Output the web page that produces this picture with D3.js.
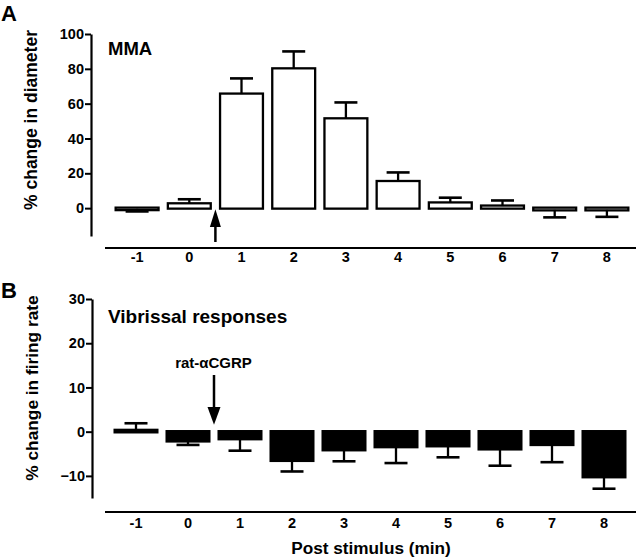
<!DOCTYPE html>
<html><head><meta charset="utf-8">
<script src="https://cdnjs.cloudflare.com/ajax/libs/d3/7.8.5/d3.min.js"></script>
<style>
html,body{margin:0;padding:0;background:#fff;}
svg{display:block;font-family:"Liberation Sans",Arial,Helvetica,sans-serif;font-weight:bold;}
</style></head>
<body><svg id="c" width="640" height="559"></svg>
<script>
const categories = ["-1","0","1","2","3","4","5","6","7","8"];
const mmaValues   = [-0.4, 2.5, 65.5, 80, 51.3, 15.3, 3, 1.2, -1, -1];
const mmaErrors   = [ 1.5, 2.6,  9,   10,  9.4,  5.2, 3, 3.2,  4.3, 4];
const vibValues   = [0.3, -2.1, -1.6, -6.5, -4.1, -3.4, -3.2, -3.9, -2.9, -10.2];
const vibErrors   = [1.6,  0.9,  2.7,  2.5,  2.6,  3.7,  2.6,  3.8,  4.0,   2.7];
const mmaTicks = [0,20,40,60,80,100];
const vibTicks = [-10,0,10,20,30];

const svg = d3.select("#c");
const FF = "Liberation Sans, Arial, sans-serif";

function panel(o){
  const g = svg.append("g");
  const x = d3.scaleBand().domain(categories).range(o.xr).paddingInner(0.14).paddingOuter(0.07);
  const y = d3.scaleLinear().domain(o.yd).range(o.yr);
  const ya = g.append("g").attr("transform",`translate(${o.axisX},0)`)
    .call(d3.axisLeft(y).tickValues(o.ticks).tickSize(6).tickSizeOuter(0).tickPadding(1));
  ya.select(".domain").attr("stroke","#000").attr("stroke-width",2.2);
  ya.selectAll(".tick line").attr("stroke","#000").attr("stroke-width",2);
  ya.selectAll(".tick text").attr("font-size",14.5).attr("font-weight","bold").attr("fill","#000")
    .attr("font-family",FF);
  g.append("line").attr("x1",105).attr("x2",636).attr("y1",o.lineY).attr("y2",o.lineY)
    .attr("stroke","#000").attr("stroke-width",2.2);
  const xa = g.append("g").attr("transform",`translate(0,${o.lineY})`)
    .call(d3.axisBottom(x).tickSize(0).tickPadding(o.labelPad));
  xa.select(".domain").remove();
  xa.selectAll(".tick text").attr("font-size",14.5).attr("font-weight","bold").attr("fill","#000")
    .attr("font-family",FF);
  const data = categories.map((c,i)=>({c,v:o.values[i],e:o.errors[i]}));
  const y0 = y(0);
  const bw = x.bandwidth();
  g.selectAll("rect.bar").data(data).join("rect")
    .attr("x",d=>x(d.c)+1).attr("width",bw-2)
    .attr("y",d=>Math.min(y(d.v),y0)-0.5)
    .attr("height",d=>Math.max(Math.abs(y(d.v)-y0),1.5)+1)
    .attr("fill",o.fill).attr("stroke","#000").attr("stroke-width",2.3);
  data.forEach(d=>{
    const cx = x(d.c)+bw/2;
    const tip = d.v>=0 ? d.v+d.e : d.v-d.e;
    g.append("line").attr("x1",cx).attr("x2",cx).attr("y1",y(d.v)).attr("y2",y(tip))
      .attr("stroke","#000").attr("stroke-width",2.3);
    g.append("line").attr("x1",cx-11.5).attr("x2",cx+11.5).attr("y1",y(tip)).attr("y2",y(tip))
      .attr("stroke","#000").attr("stroke-width",2.6);
  });
  return {x,y};
}

const A = panel({xr:[111,633], yd:[-16,100], yr:[236,34], ticks:mmaTicks, axisX:91,
  lineY:248, labelPad:4, values:mmaValues, errors:mmaErrors, fill:"#fff"});
const B = panel({xr:[110,630], yd:[-15,30], yr:[498,299], ticks:vibTicks, axisX:92,
  lineY:512, labelPad:6, values:vibValues, errors:vibErrors, fill:"#000"});

svg.append("text").attr("x",1).attr("y",21).attr("font-size",22).text("A");
svg.append("text").attr("x",1).attr("y",298).attr("font-size",22).text("B");
svg.append("text").attr("x",108).attr("y",55).attr("font-size",18.5).text("MMA");
svg.append("text").attr("x",108).attr("y",323).attr("font-size",19).text("Vibrissal responses");
svg.append("text").attr("x",213.5).attr("y",368).attr("font-size",15).attr("text-anchor","middle").text("rat-αCGRP");
svg.append("text").attr("transform","translate(37,120) rotate(-90)").attr("text-anchor","middle")
  .attr("font-size",17.5).text("% change in diameter");
svg.append("text").attr("transform","translate(38,388) rotate(-90)").attr("text-anchor","middle")
  .attr("font-size",17.3).text("% change in firing rate");
svg.append("text").attr("x",371).attr("y",554).attr("text-anchor","middle").attr("font-size",17.2)
  .text("Post stimulus (min)");

const midA = (A.x("0")+A.x.bandwidth()+A.x("1"))/2;
svg.append("line").attr("x1",midA).attr("x2",midA).attr("y1",242).attr("y2",222)
  .attr("stroke","#000").attr("stroke-width",2.5);
svg.append("path").attr("d",`M${midA},${A.y(0)+1}L${midA-5.5},${227}L${midA+5.5},${227}Z`).attr("fill","#000");
const midB = (B.x("0")+B.x.bandwidth()+B.x("1"))/2;
svg.append("line").attr("x1",midB).attr("x2",midB).attr("y1",375).attr("y2",410)
  .attr("stroke","#000").attr("stroke-width",2.5);
svg.append("path").attr("d",`M${midB},${B.y(0)-7}L${midB-6.5},${407}L${midB+6.5},${407}Z`).attr("fill","#000");
</script></body></html>
